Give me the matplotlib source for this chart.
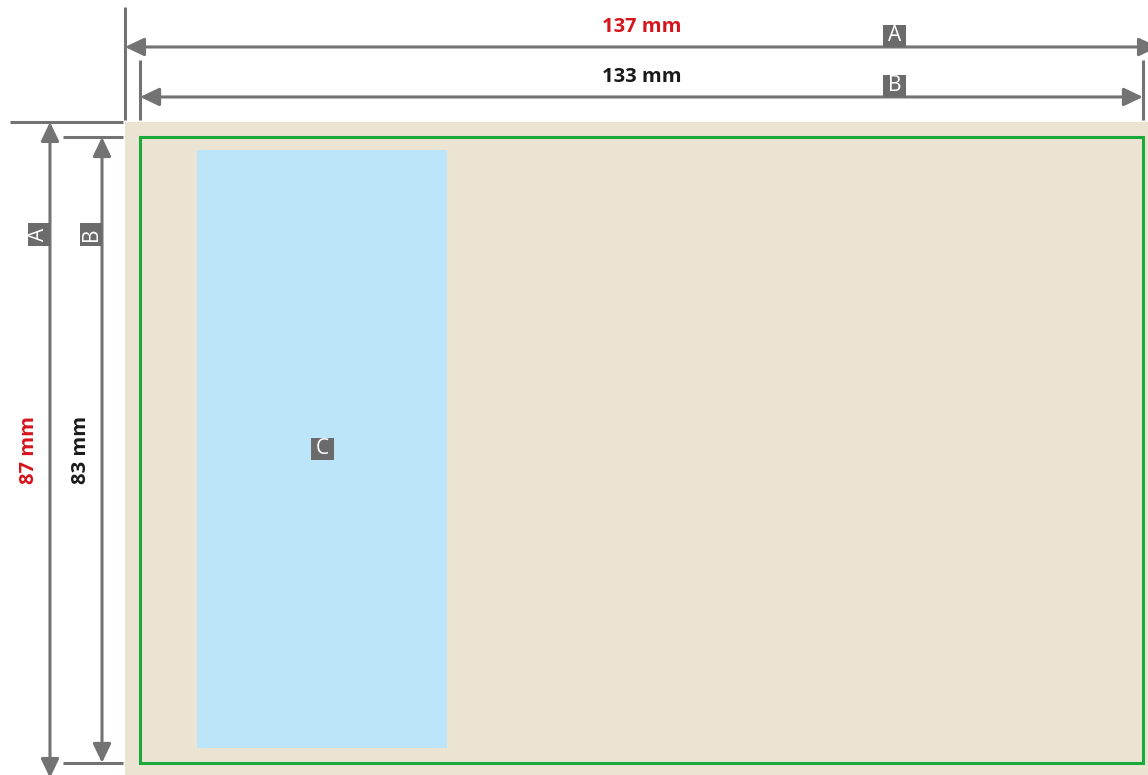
import matplotlib
matplotlib.use("Agg")
from matplotlib import pyplot as plt
from matplotlib.patches import Rectangle

# dimensions in mm
outerSize = [137, 87]       # A: width, height
innerSize = [133, 83]       # B: width, height
panelC = [9.55, 3.7, 33.2, 79.3]  # x, y, width, height
dimLabels = ["137 mm", "133 mm", "87 mm", "83 mm"]
letters = ["A", "B", "C"]

pxPerMm = 7.54
originPx = (125, 122)
W, H = 1148, 775

lineGray = '#737373'
boxGray = '#6b6b6b'
red = '#d6141c'
beige = '#ece4d2'
blue = '#bde5f9'
green = '#1aaa3c'
fontFam = ['Open Sans', 'DejaVu Sans']

fig = plt.figure(figsize=(W / 100, H / 100), dpi=100)
ax = fig.add_axes([0, 0, 1, 1])
ax.set_xlim(-originPx[0] / pxPerMm, (W - originPx[0]) / pxPerMm)
ax.set_ylim((H - originPx[1]) / pxPerMm, -originPx[1] / pxPerMm)
ax.axis('off')

margin = (outerSize[0] - innerSize[0]) / 2

# sheet, panel and safe line
ax.add_patch(Rectangle((0, 0), outerSize[0], outerSize[1], facecolor=beige, edgecolor='none'))
ax.add_patch(Rectangle((panelC[0], panelC[1]), panelC[2], panelC[3], facecolor=blue, edgecolor='none'))
ax.add_patch(Rectangle((margin, margin), innerSize[0], innerSize[1], facecolor='none',
                       edgecolor=green, linewidth=2.2))

lw = 2.2
arrowProps = dict(arrowstyle='<|-|>,head_length=1.15,head_width=0.55', color=lineGray,
                  lw=lw, shrinkA=0, shrinkB=0, mutation_scale=10)

def dimArrow(p0, p1):
    ax.annotate('', xy=p1, xytext=p0, arrowprops=arrowProps, annotation_clip=False)

def letterBox(x0, y0, letter, rot=0):
    bw, bh = 23 / pxPerMm, 22 / pxPerMm
    if rot:
        bw, bh = bh, bw
    ax.add_patch(Rectangle((x0, y0), bw, bh, facecolor=boxGray, edgecolor='none', zorder=3))
    ax.text(x0 + bw / 2, y0 + bh / 2, letter, color='white', fontsize=15, family=fontFam,
            ha='center', va='center', rotation=rot, zorder=4)

# extension lines
ext = 0.27
ax.plot([0, 0], [-15.25, -ext], color=lineGray, lw=lw, solid_capstyle='butt')
ax.plot([margin, margin], [-8.2, -ext], color=lineGray, lw=lw, solid_capstyle='butt')
ax.plot([margin + innerSize[0]] * 2, [-8.2, -ext], color=lineGray, lw=lw, solid_capstyle='butt')
ax.plot([-15.25, -ext], [0, 0], color=lineGray, lw=lw, solid_capstyle='butt')
ax.plot([-8.2, -ext], [margin, margin], color=lineGray, lw=lw, solid_capstyle='butt')
ax.plot([-8.2, -ext], [margin + innerSize[1]] * 2, color=lineGray, lw=lw, solid_capstyle='butt')

# horizontal dimensions
yA, yB = -9.95, -3.32
dimArrow((0, yA), (outerSize[0], yA))
dimArrow((margin, yB), (margin + innerSize[0], yB))
ax.text(outerSize[0] / 2, yA - 2.65, dimLabels[0], color=red, fontsize=14.5, fontweight='bold',
        family=fontFam, ha='center', va='center')
ax.text(outerSize[0] / 2, yB - 2.65, dimLabels[1], color='#1a1a1a', fontsize=14.5, fontweight='bold',
        family=fontFam, ha='center', va='center')
letterBox(100.5, yA - 22 / pxPerMm, letters[0])
letterBox(100.5, yB - 22 / pxPerMm, letters[1])

# vertical dimensions
xA, xB = -9.95, -3.05
dimArrow((xA, 0), (xA, outerSize[1]))
dimArrow((xB, margin), (xB, margin + innerSize[1]))
ax.text(xA - 2.75, outerSize[1] / 2, dimLabels[2], color=red, fontsize=14.5, fontweight='bold',
        family=fontFam, ha='center', va='center', rotation=90)
ax.text(xB - 2.75, outerSize[1] / 2, dimLabels[3], color='#1a1a1a', fontsize=14.5, fontweight='bold',
        family=fontFam, ha='center', va='center', rotation=90)
letterBox(xA - 22 / pxPerMm, 13.4, letters[0], rot=90)
letterBox(xB - 22 / pxPerMm, 13.4, letters[1], rot=90)

# panel label
letterBox(panelC[0] + panelC[2] / 2 - 11.5 / pxPerMm, panelC[1] + panelC[3] / 2 - 11 / pxPerMm, letters[2])

fig.savefig('out.png', dpi=100, facecolor='white')
